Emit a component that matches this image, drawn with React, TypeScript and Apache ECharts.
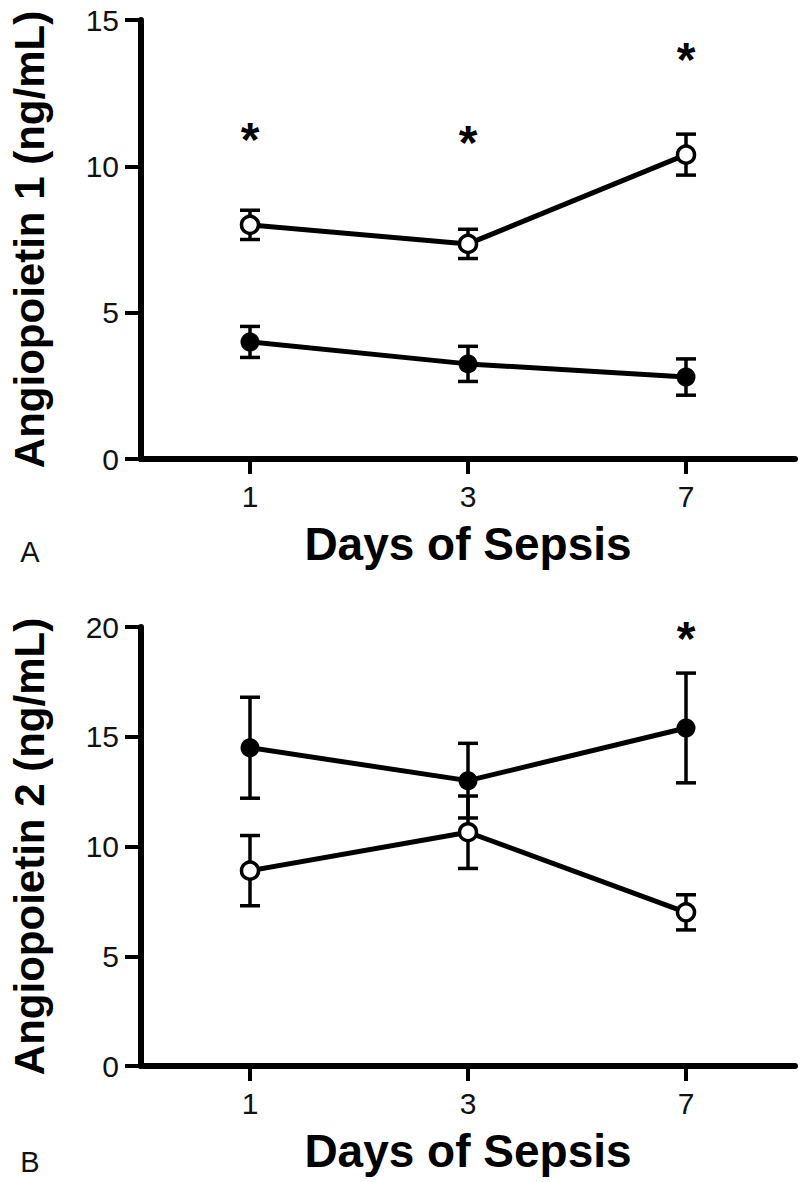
import React, { useEffect, useRef } from "react";
import * as echarts from "echarts";

const days = ["1", "3", "7"];

// Panel A: Angiopoietin 1 (ng/mL)
const ang1Open = [8.0, 7.35, 10.4];
const ang1OpenErr = [0.5, 0.5, 0.7];
const ang1Filled = [4.0, 3.25, 2.8];
const ang1FilledErr = [0.53, 0.6, 0.62];
const ang1Stars = [
  [0, 11.25],
  [1, 11.15],
  [2, 14.0],
];

// Panel B: Angiopoietin 2 (ng/mL)
const ang2Filled = [14.5, 13.0, 15.4];
const ang2FilledErr = [2.3, 1.7, 2.5];
const ang2Open = [8.9, 10.65, 7.0];
const ang2OpenErr = [1.6, 1.65, 0.8];
const ang2Stars = [[2, 19.95]];

const yTicksA = { min: 0, max: 15, interval: 5 };
const yTicksB = { min: 0, max: 20, interval: 5 };

const FONT = "'Liberation Sans', Arial, Helvetica, sans-serif";

function errData(vals: number[], errs: number[]) {
  return vals.map((v, i) => [i, v - errs[i], v + errs[i]]);
}

function errSeries(idx: number, vals: number[], errs: number[]) {
  return {
    type: "custom",
    xAxisIndex: idx,
    yAxisIndex: idx,
    z: 2,
    data: errData(vals, errs),
    renderItem: (params: any, api: any) => {
      const x = api.value(0);
      const lo = api.coord([x, api.value(1)]);
      const hi = api.coord([x, api.value(2)]);
      const hw = 10;
      const st = { stroke: "#000", lineWidth: 3.5 };
      return {
        type: "group",
        children: [
          { type: "line", shape: { x1: hi[0], y1: hi[1], x2: lo[0], y2: lo[1] }, style: st },
          { type: "line", shape: { x1: hi[0] - hw, y1: hi[1], x2: hi[0] + hw, y2: hi[1] }, style: st },
          { type: "line", shape: { x1: lo[0] - hw, y1: lo[1], x2: lo[0] + hw, y2: lo[1] }, style: st },
        ],
      };
    },
  };
}

function starSeries(idx: number, pts: number[][]) {
  return {
    type: "custom",
    xAxisIndex: idx,
    yAxisIndex: idx,
    z: 3,
    data: pts,
    renderItem: (params: any, api: any) => {
      const p = api.coord([api.value(0), api.value(1)]);
      return {
        type: "text",
        x: p[0],
        y: p[1] + 10,
        style: {
          text: "*",
          fill: "#000",
          font: `bold 48px ${FONT}`,
          align: "center",
          verticalAlign: "middle",
        },
      };
    },
  };
}

function lineSeries(idx: number, vals: number[], open: boolean) {
  return {
    type: "line",
    xAxisIndex: idx,
    yAxisIndex: idx,
    z: 4,
    data: vals,
    symbol: "circle",
    symbolSize: open ? 17 : 19,
    lineStyle: { color: "#000", width: 5 },
    itemStyle: open
      ? { color: "#fff", borderColor: "#000", borderWidth: 3.5 }
      : { color: "#000", borderColor: "#000", borderWidth: 0 },
  };
}

function xAxis(idx: number) {
  return {
    type: "category",
    gridIndex: idx,
    data: days,
    boundaryGap: true,
    name: "Days of Sepsis",
    nameLocation: "middle",
    nameGap: 62,
    nameTextStyle: { fontFamily: FONT, fontWeight: "bold", fontSize: 46, color: "#000" },
    axisLine: { show: true, lineStyle: { color: "#000", width: 6 } },
    axisTick: { show: true, alignWithLabel: true, length: 15, lineStyle: { color: "#000", width: 4 } },
    axisLabel: { margin: 22, fontFamily: FONT, fontSize: 30, color: "#111" },
    splitLine: { show: false },
  };
}

function yAxis(idx: number, name: string, t: { min: number; max: number; interval: number }) {
  return {
    type: "value",
    gridIndex: idx,
    min: t.min,
    max: t.max,
    interval: t.interval,
    name,
    nameLocation: "middle",
    nameGap: 91,
    nameTextStyle: { fontFamily: FONT, fontWeight: "bold", fontSize: 42, color: "#000" },
    axisLine: { show: true, lineStyle: { color: "#000", width: 6 } },
    axisTick: { show: true, length: 16, lineStyle: { color: "#000", width: 4 } },
    axisLabel: { margin: 22, fontFamily: FONT, fontSize: 30, color: "#111" },
    splitLine: { show: false },
  };
}

export default function App() {
  const ref = useRef<HTMLDivElement>(null);
  useEffect(() => {
    if (!ref.current) return;
    const chart = echarts.init(ref.current, undefined, { renderer: "svg" });
    chart.setOption({
      animation: false,
      backgroundColor: "#fff",
      grid: [
        { left: 140, top: 20, width: 655, height: 439 },
        { left: 140, top: 627, width: 655, height: 439 },
      ],
      xAxis: [xAxis(0), xAxis(1)],
      yAxis: [
        yAxis(0, "Angiopoietin 1 (ng/mL)", yTicksA),
        yAxis(1, "Angiopoietin 2 (ng/mL)", yTicksB),
      ],
      graphic: [
        {
          type: "text",
          x: 30,
          y: 552,
          style: { text: "A", font: `29px ${FONT}`, fill: "#111", align: "center", verticalAlign: "middle" },
        },
        {
          type: "text",
          x: 30,
          y: 1162,
          style: { text: "B", font: `29px ${FONT}`, fill: "#111", align: "center", verticalAlign: "middle" },
        },
      ],
      series: [
        errSeries(0, ang1Open, ang1OpenErr),
        errSeries(0, ang1Filled, ang1FilledErr),
        lineSeries(0, ang1Open, true),
        lineSeries(0, ang1Filled, false),
        starSeries(0, ang1Stars),
        errSeries(1, ang2Filled, ang2FilledErr),
        errSeries(1, ang2Open, ang2OpenErr),
        lineSeries(1, ang2Filled, false),
        lineSeries(1, ang2Open, true),
        starSeries(1, ang2Stars),
      ],
    });
    return () => chart.dispose();
  }, []);
  return (
    <div
      ref={ref}
      style={{ position: "absolute", left: 0, top: 0, width: 800, height: 1182, background: "#fff" }}
    />
  );
}
